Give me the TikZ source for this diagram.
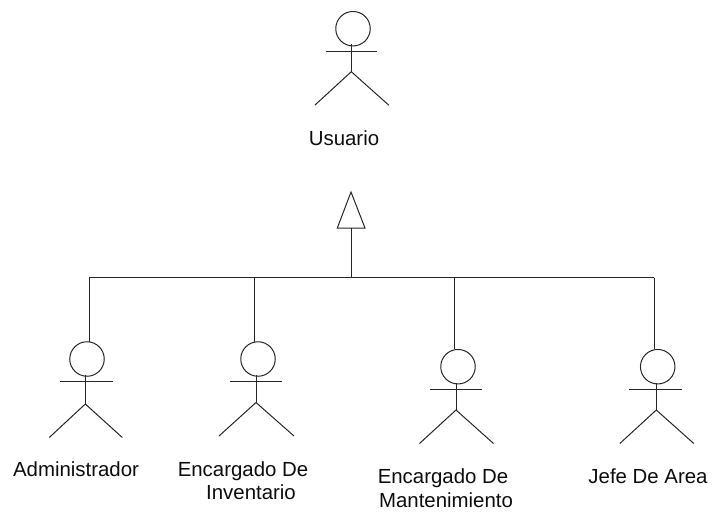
\documentclass[tikz,border=0pt]{standalone}
\usepackage{fontspec}
\setmainfont{Liberation Sans}
\usetikzlibrary{calc}
\tikzset{
  x=1pt,y=-1pt,
  stroke/.style={draw=black!85,line width=1pt,line join=miter},
  headshape/.style={circle,stroke,minimum size=34.5pt,inner sep=0pt},
  lbl/.style={anchor=base,inner sep=0pt,font=\fontsize{20.4}{24}\selectfont,text=black!95},
}
% name, head x, head y, spine x, spine top, hip y, arm L, arm R, leg half-spread
\newcommand{\stickman}[9]{%
  \node[headshape] (#1h) at (#2,#3) {};
  \coordinate (#1top) at (#4,#5);
  \coordinate (#1hip) at (#4,#6);
  \coordinate (#1al) at (#7,#5+6.7);
  \coordinate (#1ar) at (#8,#5+6.7);
  \coordinate (#1ll) at (#4-#9,#6+33.5);
  \coordinate (#1lr) at (#4+#9+1,#6+33.5);
  \draw[stroke] (#1top) -- (#1hip);
  \draw[stroke] (#1al) -- (#1ar);
  \draw[stroke] (#1ll) -- (#1hip) -- (#1lr);
}
\begin{document}
\begin{tikzpicture}
\useasboundingbox (0,0) rectangle (712,512);
\stickman{u}{353}{28.7}{351.3}{44.3}{71.7}{326}{377}{36.5}
\stickman{a}{87}{359}{85.3}{375}{404}{60}{113}{36}
\stickman{i}{258}{359}{256}{375}{402.5}{230}{282}{37}
\stickman{m}{458}{366.7}{456}{382.6}{410}{430}{482}{36.5}
\stickman{j}{657.7}{366.7}{656.3}{382.6}{410}{629}{682}{36.5}

\node[lbl] (lu) at (344,145) {Usuario};
\node[lbl] (la) at (76,476.7) {Administrador};
\node[lbl] (li1) at (243,476) {Encargado De};
\node[lbl] (li2) at (251,499.5) {Inventario};
\node[lbl] (lm1) at (443,483) {Encargado De};
\node[lbl] (lm2) at (446,507.5) {Mantenimiento};
\node[lbl] (lj) at (648,483) {Jefe De Area};

\coordinate (apex) at (351,192);
\coordinate (bl) at (337.3,228);
\coordinate (br) at (365,228);
\coordinate (bm) at (351,228);
\coordinate (tee) at (351,277.7);
\coordinate (ba) at (89.3,277.7);
\coordinate (bi) at (254.3,277.7);
\coordinate (bm2) at (454,277.7);
\coordinate (bj) at (654.3,277.7);
\draw[stroke] (apex) -- (br) -- (bl) -- cycle;
\draw[stroke] (bm) -- (tee);
\draw[stroke] (ba) -- (bj);
\draw[stroke] (ba) -- (89.3,342);
\draw[stroke] (bi) -- (254.3,342);
\draw[stroke] (bm2) -- (454,348.5);
\draw[stroke] (bj) -- (654.3,348.5);
\end{tikzpicture}
\end{document}
